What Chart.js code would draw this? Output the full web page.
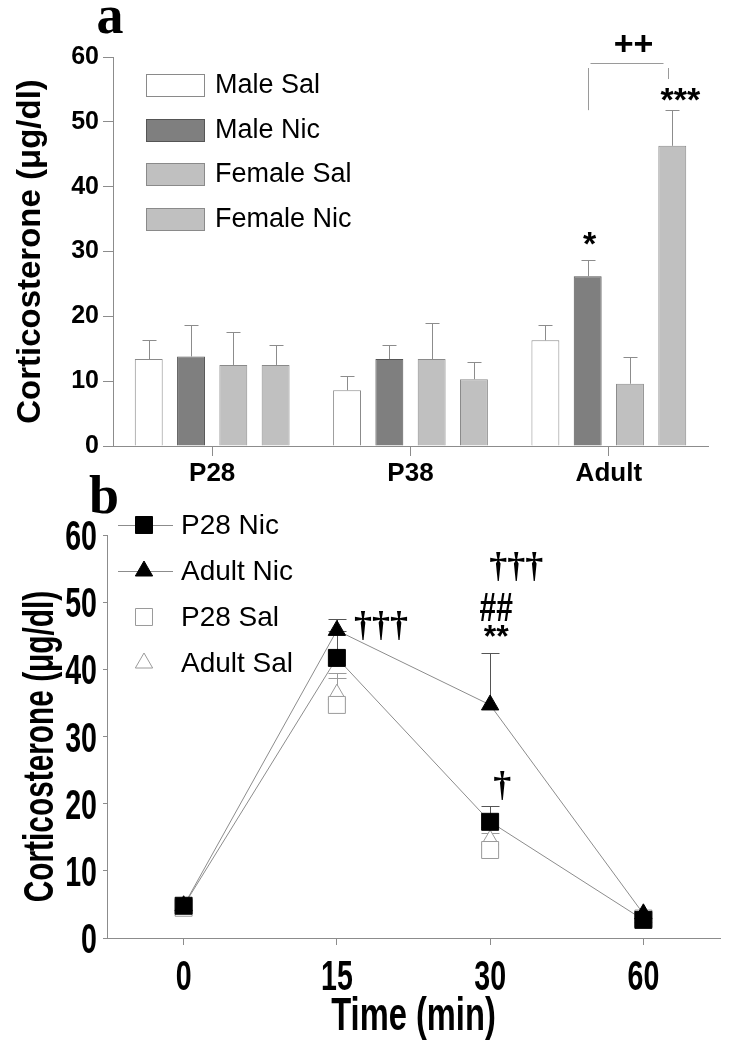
<!DOCTYPE html>
<html>
<head>
<meta charset="utf-8">
<script src="https://cdn.jsdelivr.net/npm/chart.js@4.4.1/dist/chart.umd.min.js"></script>
<style>
  body { margin: 0; background: #fff; }
  #wrap { position: relative; width: 733px; height: 1050px; }
  canvas { position: absolute; left: 0; }
  #bargraph { top: 0; }
  #timegraph { top: 470px; }
</style>
</head>
<body>
<div id="wrap">
  <canvas id="bargraph" width="733" height="490"></canvas>
  <canvas id="timegraph" width="733" height="580"></canvas>
</div>
<script>
// ---- panel a data ----
const groups = ['P28', 'P38', 'Adult'];
const barLabels = ['Male Sal', 'Male Nic', 'Female Sal', 'Female Nic'];
const maleSal = [13.4, 8.6, 16.3];
const maleNic = [13.8, 13.4, 26.2];
const femaleSal = [12.5, 13.4, 9.6];
const femaleNic = [12.5, 10.3, 46.3];
const maleSalSem = [2.9, 2.2, 2.3];
const maleNicSem = [4.8, 2.2, 2.5];
const femaleSalSem = [5.1, 5.6, 4.2];
const femaleNicSem = [3.1, 2.7, 5.5];

// ---- panel b data ----
const times = ['0', '15', '30', '60'];
const lineLabels = ['P28 Nic', 'Adult Nic', 'P28 Sal', 'Adult Sal'];
const p28Nic = [4.8, 41.7, 17.3, 2.7];
const adultNic = [4.8, 45.8, 34.7, 3.6];
const p28Sal = [4.5, 34.7, 13.1, 2.9];
const adultSal = [4.6, 36.3, 14.6, 3.0];
const p28NicSem = [0, 4.0, 2.3, 0];
const adultNicSem = [0, 1.7, 7.7, 0];
const p28SalSem = [0, 4.0, 2.5, 0];
const adultSalSem = [0, 3.1, 2.0, 0];

const SANS = '"Liberation Sans", Arial, sans-serif';
const SERIF = '"Liberation Serif", "Times New Roman", serif';
const AXIS = '#8c8c8c';

Chart.defaults.color = '#000';

function drawText(ctx, text, x, y, font, align) {
  ctx.font = font;
  ctx.textAlign = align || 'center';
  ctx.textBaseline = 'middle';
  ctx.fillStyle = '#000';
  ctx.fillText(text, x, y);
}

// squeezed text (the figure's panel b uses a tall condensed face)
function narrowText(ctx, text, x, y, sx) {
  ctx.save();
  ctx.translate(x, y);
  ctx.scale(sx, 1);
  ctx.fillText(text, 0, 0);
  ctx.restore();
}

// ===================PANEL A===================
const semA = [maleSalSem, maleNicSem, femaleSalSem, femaleNicSem];

const barErrors = {
  id: 'barErrors',
  afterDatasetsDraw(chart) {
    const ctx = chart.ctx;
    const y = chart.scales.y;
    ctx.save();
    ctx.strokeStyle = '#8c8c8c';
    ctx.lineWidth = 1;
    chart.data.datasets.forEach((ds, i) => {
      chart.getDatasetMeta(i).data.forEach((bar, j) => {
        const top = Math.round(y.getPixelForValue(ds.data[j] + semA[i][j])) + 0.5;
        const x = Math.round(bar.x) + 0.5;
        ctx.beginPath();
        ctx.moveTo(x, bar.y);
        ctx.lineTo(x, top);
        ctx.moveTo(x - 7, top);
        ctx.lineTo(x + 7, top);
        ctx.stroke();
      });
    });
    ctx.restore();
  }
};

const boxLegend = {
  id: 'boxLegend',
  afterDraw(chart, args, opts) {
    const ctx = chart.ctx;
    ctx.save();
    chart.data.datasets.forEach((ds, i) => {
      const y = opts.top + i * opts.gap;
      ctx.fillStyle = ds.backgroundColor;
      ctx.strokeStyle = ds.borderColor;
      ctx.lineWidth = 1;
      ctx.fillRect(opts.x + 0.5, Math.round(y) + 0.5, opts.w, opts.h);
      ctx.strokeRect(opts.x + 0.5, Math.round(y) + 0.5, opts.w, opts.h);
      drawText(ctx, ds.label, opts.x + opts.w + 11, y + opts.h / 2 + 1, opts.font, 'left');
    });
    ctx.restore();
  }
};

const barNotes = {
  id: 'barNotes',
  afterDraw(chart) {
    const ctx = chart.ctx;
    const y = chart.scales.y;
    const nic = chart.getDatasetMeta(1).data[2];
    const fem = chart.getDatasetMeta(3).data[2];
    ctx.save();
    const star = 'bold 34px ' + SANS;
    drawText(ctx, '*', nic.x + 2, y.getPixelForValue(31.8) + 6, star);
    drawText(ctx, '***', fem.x + 8, y.getPixelForValue(54.1) + 6, star);
    // bracket between Adult Male Nic and Adult Female Nic
    ctx.strokeStyle = '#9a9a9a';
    ctx.lineWidth = 1;
    const lx = Math.round(nic.x) + 0.5;
    const rx = Math.round(fem.x) - 3.5;
    const hy = Math.round(y.getPixelForValue(59.1)) + 0.5;
    ctx.beginPath();
    ctx.moveTo(lx + 2, hy);
    ctx.lineTo(rx - 5, hy);
    ctx.moveTo(lx, y.getPixelForValue(58.3));
    ctx.lineTo(lx, y.getPixelForValue(51.8));
    ctx.moveTo(rx, y.getPixelForValue(58.3));
    ctx.lineTo(rx, y.getPixelForValue(56.6));
    ctx.stroke();
    drawText(ctx, '++', (lx + rx) / 2 + 5, y.getPixelForValue(61.8), 'bold 34px ' + SANS);
    ctx.font = 'bold 54px ' + SERIF;
    ctx.textAlign = 'center';
    ctx.textBaseline = 'alphabetic';
    ctx.fillText('a', 110, 33);
    ctx.restore();
  }
};

const barColors = ['#ffffff', '#7f7f7f', '#c0c0c0', '#c0c0c0'];
const barBorders = ['#8a8a8a', '#555555', '#8a8a8a', '#8a8a8a'];
const barSeries = [maleSal, maleNic, femaleSal, femaleNic];

new Chart(document.getElementById('bargraph').getContext('2d'), {
  type: 'bar',
  data: {
    labels: groups,
    datasets: barSeries.map((vals, i) => ({
      label: barLabels[i],
      data: vals,
      backgroundColor: barColors[i],
      borderColor: barBorders[i],
      borderWidth: 1,
      categoryPercentage: 0.853,
      barPercentage: 0.66
    }))
  },
  options: {
    responsive: false,
    animation: false,
    layout: { padding: { top: 57, right: 25, left: 0, bottom: 0 } },
    plugins: {
      legend: { display: false },
      tooltip: { enabled: false },
      boxLegend: { x: 146, top: 74, gap: 44.5, w: 58, h: 22, font: '27px ' + SANS }
    },
    scales: {
      x: {
        ticks: { color: '#000', font: { family: SANS, size: 26, weight: 'bold' }, padding: 2 },
        grid: { drawOnChartArea: false, offset: false, tickLength: 10, color: AXIS },
        border: { color: AXIS },
        afterFit: s => { s.height = 44; }
      },
      y: {
        min: 0,
        max: 60,
        ticks: { stepSize: 10, color: '#000', font: { family: SANS, size: 25, weight: 'bold' }, padding: 4 },
        grid: { drawOnChartArea: false, tickLength: 10, color: AXIS },
        border: { color: AXIS },
        title: {
          display: true,
          text: 'Corticosterone (μg/dl)',
          color: '#000',
          font: { family: SANS, size: 33, weight: 'bold', lineHeight: 1 },
          padding: { top: 14, bottom: 0 }
        },
        afterFit: s => { s.width = 113; }
      }
    }
  },
  plugins: [barErrors, boxLegend, barNotes]
});

// ===================PANEL B===================
const semB = [p28NicSem, adultNicSem, p28SalSem, adultSalSem];

const pointErrors = {
  id: 'pointErrors',
  beforeDatasetsDraw(chart) {
    const ctx = chart.ctx;
    const y = chart.scales.y;
    ctx.save();
    ctx.lineWidth = 1;
    chart.data.datasets.forEach((ds, i) => {
      ctx.strokeStyle = i < 2 ? '#555555' : '#9a9a9a';
      chart.getDatasetMeta(i).data.forEach((pt, j) => {
        if (!semB[i][j]) return;
        const top = Math.round(y.getPixelForValue(ds.data[j] + semB[i][j])) + 0.5;
        const x = Math.round(pt.x) + 0.5;
        ctx.beginPath();
        ctx.moveTo(x, pt.y);
        ctx.lineTo(x, top);
        ctx.moveTo(x - 9, top);
        ctx.lineTo(x + 9, top);
        ctx.stroke();
      });
    });
    ctx.restore();
  }
};

// axis labels of panel b, placed from the scales' own ticks
const narrowAxes = {
  id: 'narrowAxes',
  afterDraw(chart, args, opts) {
    const ctx = chart.ctx;
    const {x, y} = chart.scales;
    ctx.save();
    ctx.fillStyle = '#000';
    ctx.textBaseline = 'alphabetic';
    ctx.font = 'bold ' + opts.tickSize + 'px ' + SANS;
    const capT = 0.358 * opts.tickSize;
    ctx.textAlign = 'center';
    x.ticks.forEach((t, i) => narrowText(ctx, t.label, x.getPixelForTick(i), opts.xTickY + capT, opts.sx));
    ctx.textAlign = 'right';
    y.ticks.forEach((t, i) => narrowText(ctx, t.label, opts.yTickX, y.getPixelForTick(i) + capT, opts.sx));
    ctx.textAlign = 'center';
    ctx.font = 'bold ' + opts.xTitleSize + 'px ' + SANS;
    narrowText(ctx, x.options.title.text, (x.left + x.right) / 2, opts.xTitleY + 0.358 * opts.xTitleSize, opts.sxTitle);
    ctx.font = 'bold ' + opts.yTitleSize + 'px ' + SANS;
    ctx.translate(opts.yTitleX + 0.358 * opts.yTitleSize, (y.top + y.bottom) / 2 + opts.yTitleShift);
    ctx.rotate(-Math.PI / 2);
    ctx.scale(opts.sxTitle, 1);
    ctx.fillText(y.options.title.text, 0, 0);
    ctx.restore();
  }
};

const markerLegend = {
  id: 'markerLegend',
  afterDraw(chart, args, opts) {
    const ctx = chart.ctx;
    ctx.save();
    chart.data.datasets.forEach((ds, i) => {
      const y = opts.top + i * opts.gap;
      if (ds.showLine !== false) {
        ctx.strokeStyle = ds.borderColor;
        ctx.lineWidth = 1;
        ctx.beginPath();
        ctx.moveTo(opts.x1, Math.round(y) + 0.5);
        ctx.lineTo(opts.x2, Math.round(y) + 0.5);
        ctx.stroke();
      }
      ctx.fillStyle = ds.pointBackgroundColor;
      ctx.strokeStyle = ds.pointBorderColor;
      ctx.lineWidth = 1;
      Chart.helpers.drawPoint(ctx, {
        pointStyle: ds.pointStyle, radius: ds.pointRadius, rotation: 0, borderWidth: 1
      }, opts.mx, y);
      drawText(ctx, ds.label, opts.tx, y + 1, opts.font, 'left');
    });
    ctx.restore();
  }
};

const lineNotes = {
  id: 'lineNotes',
  afterDraw(chart) {
    const ctx = chart.ctx;
    const x = chart.scales.x;
    const y = chart.scales.y;
    const x15 = x.getPixelForValue(1);
    const x30 = x.getPixelForValue(2);
    ctx.save();
    const dag = 'bold 36px ' + SERIF;
    drawText(ctx, '†††', x15 + 17, y.getPixelForValue(46.4), dag, 'left');
    drawText(ctx, '†††', x30 - 1, y.getPixelForValue(55.2), dag, 'left');
    drawText(ctx, '†', x30 + 12, y.getPixelForValue(22.5), dag);
    drawText(ctx, '**', x30 + 6, y.getPixelForValue(45.8) + 8, 'bold 32px ' + SANS);
    ctx.font = 'bold 40px ' + SANS;
    ctx.textAlign = 'center';
    ctx.textBaseline = 'middle';
    narrowText(ctx, '##', x30 + 6, y.getPixelForValue(48.8), 0.75);
    ctx.font = 'bold 54px ' + SERIF;
    ctx.textBaseline = 'alphabetic';
    ctx.fillText('b', 104, 43);
    ctx.restore();
  }
};

const lineSeries = [p28Nic, adultNic, p28Sal, adultSal];
const shapes = ['rect', 'triangle', 'rect', 'triangle'];
const radii = [12, 10, 12, 10];

new Chart(document.getElementById('timegraph').getContext('2d'), {
  type: 'line',
  data: {
    labels: times,
    datasets: lineSeries.map((vals, i) => ({
      label: lineLabels[i],
      data: vals,
      showLine: i < 2,
      borderColor: '#8c8c8c',
      borderWidth: 1,
      tension: 0,
      pointStyle: shapes[i],
      pointRadius: radii[i],
      pointBackgroundColor: i < 2 ? '#000000' : '#ffffff',
      pointBorderColor: i < 2 ? '#000000' : '#9a9a9a',
      pointBorderWidth: 1
    }))
  },
  options: {
    responsive: false,
    animation: false,
    layout: { padding: { top: 65, right: 5, left: 0, bottom: 0 } },
    plugins: {
      legend: { display: false },
      tooltip: { enabled: false },
      markerLegend: { x1: 118, x2: 173, mx: 144, tx: 181, top: 55, gap: 46, font: '28px ' + SANS },
      narrowAxes: {
        tickSize: 42, sx: 0.68, xTickY: 505, yTickX: 97,
        xTitleSize: 46, xTitleY: 544, yTitleSize: 42, yTitleX: 38, yTitleShift: 10, sxTitle: 0.71
      }
    },
    scales: {
      x: {
        offset: true,
        ticks: { display: false },
        grid: { drawOnChartArea: false, offset: false, tickLength: 7, color: AXIS },
        border: { color: AXIS },
        title: { display: false, text: 'Time (min)' },
        afterFit: s => { s.height = 112; }
      },
      y: {
        min: 0,
        max: 60,
        ticks: { display: false, stepSize: 10 },
        grid: { drawOnChartArea: false, tickLength: 4, color: AXIS },
        border: { color: AXIS },
        title: { display: false, text: 'Corticosterone (μg/dl)' },
        afterFit: s => { s.width = 107; }
      }
    }
  },
  plugins: [pointErrors, narrowAxes, markerLegend, lineNotes]
});
</script>
</body>
</html>
